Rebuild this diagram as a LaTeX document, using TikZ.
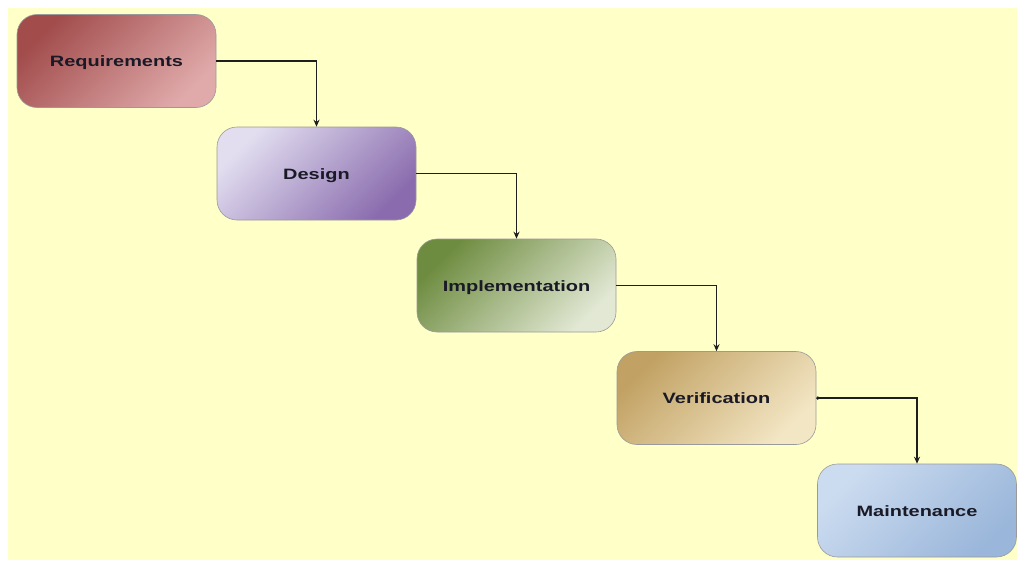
\documentclass[tikz,border=0pt]{standalone}
\usepackage{fontspec}
\usetikzlibrary{arrows.meta}
\newfontfamily\lblfont{Liberation Sans}[FakeStretch=1.33]
\definecolor{bgyellow}{HTML}{FFFFC8}
\definecolor{reqA}{HTML}{A24C4C}
\definecolor{reqB}{HTML}{E0AAAA}
\definecolor{desA}{HTML}{E2DEF0}
\definecolor{desB}{HTML}{8A6CAE}
\definecolor{impA}{HTML}{6E8C40}
\definecolor{impB}{HTML}{E2E8D4}
\definecolor{verA}{HTML}{C2A264}
\definecolor{verB}{HTML}{F3E6C4}
\definecolor{manA}{HTML}{CCDCF0}
\definecolor{manB}{HTML}{9AB6DA}
\definecolor{txt}{HTML}{1A1A26}
\definecolor{edge}{HTML}{9A9A9A}
\definecolor{wire}{HTML}{1E1E1E}
\tikzset{
  phase/.style={draw=edge, line width=0.6pt, rounded corners=20pt,
    minimum width=199pt, minimum height=93pt, inner sep=0pt,
    text height=11pt, text depth=0pt,
    font=\lblfont\bfseries\fontsize{15pt}{18pt}\selectfont, text=txt},
  grad/.style 2 args={top color=#1, bottom color=#2, shading angle=45},
  flow/.style={draw=wire, line width=1.5pt, -{Stealth[length=7pt,width=6pt]}}
}
\begin{document}
\begin{tikzpicture}[x=1pt,y=-1pt]
\fill[white] (0,0) rectangle (1017,560);
\useasboundingbox (0,0) rectangle (1017,560);
\fill[bgyellow] (8,8) rectangle (1017,560);
\node[phase, grad={reqA}{reqB}] (req) at (116.5,61) {Requirements};
\node[phase, grad={desA}{desB}] (des) at (316.5,173.5) {Design};
\node[phase, grad={impA}{impB}] (imp) at (516.5,285.5) {Implementation};
\node[phase, grad={verA}{verB}] (ver) at (716.5,398) {Verification};
\node[phase, grad={manA}{manB}] (man) at (917,510.5) {Maintenance};
\draw[flow] (req.east) -| (des.north);
\draw[flow] (des.east) -| (imp.north);
\draw[flow] (imp.east) -| (ver.north);
\draw[flow, {Circle[length=3pt]}-{Stealth[length=7pt,width=6pt]}] (ver.east) -| (man.north);
\end{tikzpicture}
\end{document}
